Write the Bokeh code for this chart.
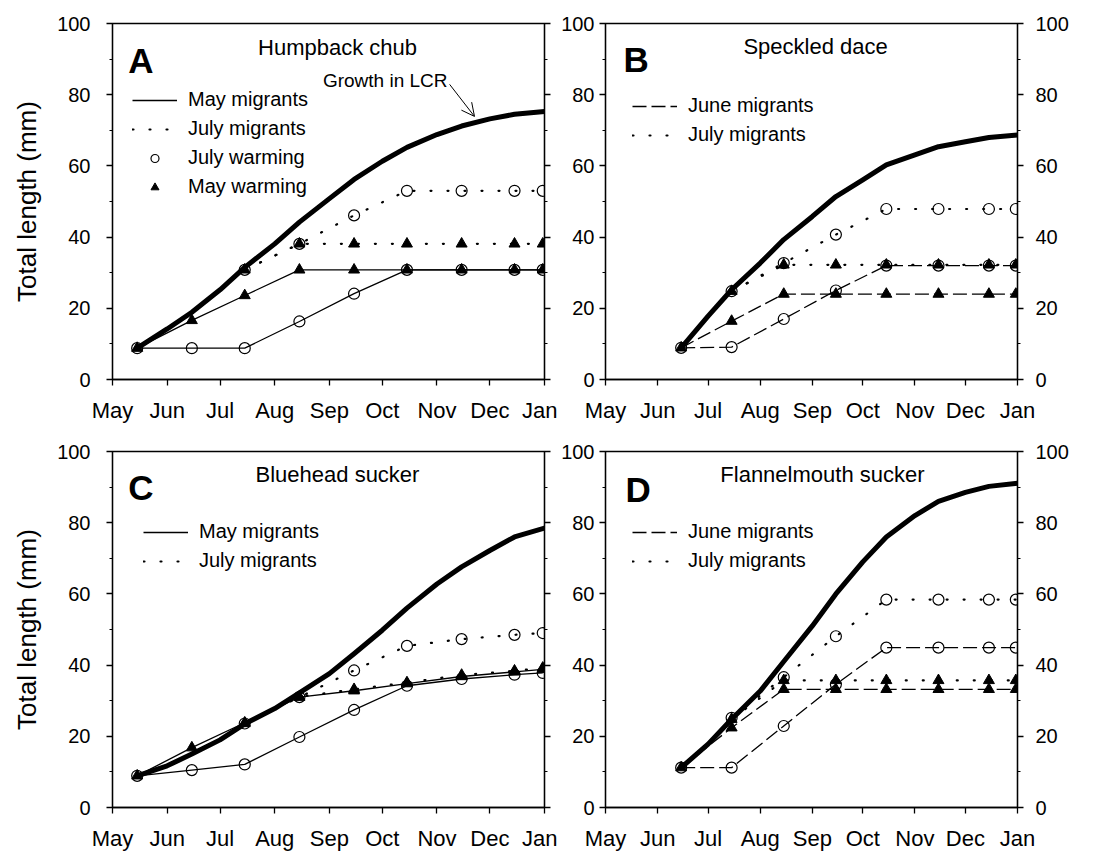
from bokeh.plotting import figure
from bokeh.models import (Range1d, FixedTicker, LinearAxis, Legend, LegendItem,
                          Label, Arrow, OpenHead)
from bokeh.layouts import column, row
from bokeh.embed import file_html
from bokeh.resources import INLINE

FONT = "Liberation Sans"

# ---------------- data ----------------
MONTH_LABELS = ["May", "Jun", "Jul", "Aug", "Sep", "Oct", "Nov", "Dec", "Jan"]
MONTH_START_DAY = [0, 31, 61, 92, 123, 153, 184, 214, 245]       # days since 1 May
SAMPLE_DAY = [14, 45, 75, 106, 137, 167, 198, 228, 244]           # mid-month samples
CURVE_DAY = [14, 31, 45, 61, 75, 92, 106, 123, 137, 153, 167, 184, 198, 214, 228, 245]
Y_TICKS = [0, 20, 40, 60, 80, 100]
Y_MINOR = [10, 30, 50, 70, 90]

# A  Humpback chub
hbc_growth = [8.8, 14.2, 18.9, 25.2, 31.5, 38.1, 44.2, 50.8, 56.2, 61.3, 65.2, 68.8, 71.2, 73.2, 74.5, 75.3]
hbc_may_maywarm = [8.8, 16.6, 23.6, 30.8, 30.8, 30.8, 30.8, 30.8, 30.8]
hbc_may_julwarm = [8.8, 8.8, 8.8, 16.3, 24.1, 30.8, 30.8, 30.8, 30.8]
hbc_jul_maywarm = [30.8, 38.1, 38.1, 38.1, 38.1, 38.1, 38.1]
hbc_jul_julwarm = [30.8, 38.1, 46.1, 53.0, 53.0, 53.0, 53.0]

# B  Speckled dace
spd_growth = [8.9, 17.8, 25.2, 32.7, 39.3, 45.8, 51.4, 56.1, 60.3, 63.1, 65.4, 66.8, 68.0, 68.7]
spd_jun_maywarm = [8.9, 16.4, 24.0, 24.0, 24.0, 24.0, 24.0, 24.0]
spd_jun_julwarm = [8.9, 9.1, 17.0, 25.0, 32.0, 32.0, 32.0, 32.0]
spd_jul_maywarm = [24.8, 32.2, 32.2, 32.2, 32.2, 32.2, 32.2]
spd_jul_julwarm = [24.8, 32.7, 40.7, 47.9, 47.9, 47.9, 47.9]

# C  Bluehead sucker
bhs_growth = [8.9, 11.7, 15.0, 19.0, 23.5, 27.8, 32.2, 37.6, 43.2, 49.8, 56.0, 62.8, 67.6, 72.2, 76.0, 78.5]
bhs_may_maywarm = [8.9, 16.8, 23.8, 31.0, 32.8, 34.8, 36.8, 38.1, 38.8]
bhs_may_julwarm = [8.9, 10.5, 12.1, 19.8, 27.4, 34.2, 36.1, 37.3, 37.8]
bhs_jul_maywarm = [23.6, 31.1, 33.2, 35.1, 37.2, 38.4, 39.2]
bhs_jul_julwarm = [23.6, 31.0, 38.5, 45.4, 47.3, 48.5, 49.0]

# D  Flannelmouth sucker
fms_growth = [11.2, 17.8, 24.8, 32.7, 41.0, 51.0, 60.0, 69.0, 76.0, 82.0, 86.0, 88.5, 90.2, 91.1]
fms_jun_maywarm = [11.2, 22.4, 33.2, 33.2, 33.2, 33.2, 33.2, 33.2]
fms_jun_julwarm = [11.2, 11.2, 22.9, 34.6, 44.9, 44.9, 44.9, 44.9]
fms_jul_maywarm = [24.8, 35.7, 35.7, 35.7, 35.7, 35.7, 35.7]
fms_jul_julwarm = [25.2, 36.6, 48.1, 58.4, 58.4, 58.4, 58.4]

# ---------------- styles ----------------
DASH = {"solid": "solid", "dash": "14 5", "dot": "1 16"}
LW_THIN = 1.3


def make_panel(frame_w, borders, left_labels, right_labels, ylabel):
    bl, br, bt, bb = borders
    p = figure(frame_width=frame_w, frame_height=356,
               x_range=Range1d(0, 245), y_range=Range1d(0, 100),
               output_backend="svg", toolbar_location=None,
               min_border_left=bl, min_border_right=br,
               min_border_top=bt, min_border_bottom=bb,
               background_fill_color="white", border_fill_color="white")
    p.xgrid.visible = False
    p.ygrid.visible = False
    p.outline_line_color = "black"
    p.outline_line_width = LW_THIN

    xa = p.xaxis[0]
    xa.ticker = FixedTicker(ticks=MONTH_START_DAY)
    xa.major_label_overrides = {d: m for d, m in zip(MONTH_START_DAY, MONTH_LABELS)}
    xa.major_label_text_font = FONT
    xa.major_label_text_font_size = "22px"
    xa.major_label_text_color = "black"
    xa.major_label_standoff = 12
    xa.major_tick_out = 6
    xa.major_tick_in = 0
    xa.minor_tick_out = 0
    xa.minor_tick_in = 0
    xa.axis_line_width = LW_THIN
    xa.major_tick_line_width = LW_THIN

    ya = p.yaxis[0]
    ra = LinearAxis()
    p.add_layout(ra, "right")
    for ax, show, standoff in ((ya, left_labels[0], left_labels[1]),
                               (ra, right_labels[0], right_labels[1])):
        ax.ticker = FixedTicker(ticks=Y_TICKS, minor_ticks=Y_MINOR)
        ax.major_tick_out = 6
        ax.major_tick_in = 0
        ax.minor_tick_out = 3
        ax.minor_tick_in = 0
        ax.axis_line_width = LW_THIN
        ax.major_tick_line_width = LW_THIN
        ax.minor_tick_line_width = 1
        ax.major_label_text_font = FONT
        ax.major_label_text_font_size = "20px"
        ax.major_label_text_color = "black"
        ax.major_label_standoff = standoff
        if not show:
            ax.major_label_overrides = {v: "" for v in Y_TICKS}
    if ylabel:
        ya.axis_label = ylabel
        ya.axis_label_text_font = FONT
        ya.axis_label_text_font_size = "26px"
        ya.axis_label_text_font_style = "normal"
        ya.axis_label_text_color = "black"
        ya.axis_label_standoff = 12
    return p


def draw_series(p, growth_days, growth, series):
    """Returns dict of legend renderers: line styles and marker kinds."""
    reps = {}
    p.line(growth_days, growth, line_color="black", line_width=5,
           line_join="round", line_cap="round")
    for days, vals, dash, marker in series:
        r = p.line(days, vals, line_color="black",
                   line_width=(2.2 if dash == "dot" else LW_THIN),
                   line_dash=DASH[dash], line_cap=("round" if dash == "dot" else "butt"))
        reps.setdefault(dash, r)
    for days, vals, dash, marker in series:
        if marker == "circle":
            r = p.scatter(days, vals, marker="circle", size=11, line_color="black",
                          line_width=1.2, fill_color=None)
        else:
            r = p.scatter(days, vals, marker="triangle", size=11, line_color="black",
                          line_width=1, fill_color="black")
        reps.setdefault(marker, r)
    return reps


def add_legend(p, reps, entries, loc):
    items = [LegendItem(label=label, renderers=[reps[kind]]) for label, kind in entries]
    lg = Legend(items=items, location=loc, padding=0, margin=0,
                border_line_color=None, background_fill_alpha=0,
                glyph_width=45, glyph_height=20, label_height=20,
                label_standoff=11, spacing=6,
                label_text_font=FONT, label_text_font_size="20px",
                label_text_color="black")
    p.add_layout(lg)


def add_texts(p, letter, letter_xy, title, title_xy):
    p.add_layout(Label(x=letter_xy[0], y=letter_xy[1], text=letter, text_font=FONT,
                       text_font_size="35px", text_font_style="bold",
                       text_baseline="middle", text_align="left", text_color="black"))
    p.add_layout(Label(x=title_xy[0], y=title_xy[1], text=title, text_font=FONT,
                       text_font_size="22px", text_baseline="middle",
                       text_align="center", text_color="black"))


jun_days = SAMPLE_DAY[1:]
jul_days = SAMPLE_DAY[2:]

# Panel A
pA = make_panel(432, (112, 13, 23, 56), (True, 16), (False, 0), "Total length (mm)")
repA = draw_series(pA, CURVE_DAY, hbc_growth, [
    (SAMPLE_DAY, hbc_may_maywarm, "solid", "triangle"),
    (SAMPLE_DAY, hbc_may_julwarm, "solid", "circle"),
    (jul_days, hbc_jul_maywarm, "dot", "triangle"),
    (jul_days, hbc_jul_julwarm, "dot", "circle"),
])
add_legend(pA, repA, [("May migrants", "solid"), ("July migrants", "dot"),
                      ("July warming", "circle"), ("May warming", "triangle")], (20, 181))
add_texts(pA, "A", (9, 89.6), "Humpback chub", (127.6, 93.3))
pA.add_layout(Label(x=190, y=84, text="Growth in LCR", text_font=FONT,
                    text_font_size="19px", text_align="right", text_baseline="middle",
                    text_color="black"))
pA.add_layout(Arrow(end=OpenHead(size=13, line_width=1, line_color="black"),
                    x_start=191.2, y_start=82.9, x_end=205.3, y_end=73.9,
                    line_width=1, line_color="black"))

# Panel B
pB = make_panel(412, (48, 65, 23, 56), (True, 5), (True, 12), None)
repB = draw_series(pB, CURVE_DAY[2:], spd_growth, [
    (jun_days, spd_jun_maywarm, "dash", "triangle"),
    (jun_days, spd_jun_julwarm, "dash", "circle"),
    (jul_days, spd_jul_maywarm, "dot", "triangle"),
    (jul_days, spd_jul_julwarm, "dot", "circle"),
])
add_legend(pB, repB, [("June migrants", "dash"), ("July migrants", "dot")], (27, 233))
add_texts(pB, "B", (10.7, 89.9), "Speckled dace", (124.9, 93.5))

# Panel C
pC = make_panel(432, (112, 13, 16, 40), (True, 16), (False, 0), "Total length (mm)")
repC = draw_series(pC, CURVE_DAY, bhs_growth, [
    (SAMPLE_DAY, bhs_may_maywarm, "solid", "triangle"),
    (SAMPLE_DAY, bhs_may_julwarm, "solid", "circle"),
    (jul_days, bhs_jul_maywarm, "dot", "triangle"),
    (jul_days, bhs_jul_julwarm, "dot", "circle"),
])
add_legend(pC, repC, [("May migrants", "solid"), ("July migrants", "dot")], (31, 235))
add_texts(pC, "C", (9, 89.9), "Bluehead sucker", (127.6, 93.6))

# Panel D
pD = make_panel(412, (48, 65, 16, 40), (True, 5), (True, 12), None)
repD = draw_series(pD, CURVE_DAY[2:], fms_growth, [
    (jun_days, fms_jun_maywarm, "dash", "triangle"),
    (jun_days, fms_jun_julwarm, "dash", "circle"),
    (jul_days, fms_jul_maywarm, "dot", "triangle"),
    (jul_days, fms_jul_julwarm, "dot", "circle"),
])
add_legend(pD, repD, [("June migrants", "dash"), ("July migrants", "dot")], (27, 235))
add_texts(pD, "D", (11.9, 89.3), "Flannelmouth sucker", (129, 93.5))

layout = column(row(pA, pB), row(pC, pD))
open("out.html", "w").write(file_html(layout, INLINE))
